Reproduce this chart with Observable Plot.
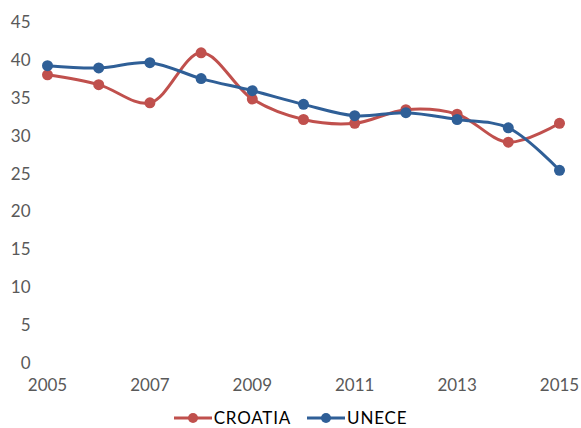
<!DOCTYPE html>
<html>
<head>
<meta charset="utf-8">
<script src="https://cdn.jsdelivr.net/npm/d3@7"></script>
<script src="https://cdn.jsdelivr.net/npm/@observablehq/plot@0.6"></script>
<style>
  body { margin: 0; background: #fff; font-family: Lato, "Open Sans", sans-serif; overflow: hidden; }
  #chart svg { display: block; }
  #legend { display: flex; justify-content: center; gap: 16px; font-size: 17px; line-height: 20px; letter-spacing: 0.8px; color: #000; height: 20px; align-items: center; margin-top: 11px; }
  #legend span.item { display: inline-flex; align-items: center; gap: 2px; }
</style>
</head>
<body>
<div id="chart"></div>
<div id="legend"></div>
<script>
const years = [2005, 2006, 2007, 2008, 2009, 2010, 2011, 2012, 2013, 2014, 2015];
const croatia = [38.1, 36.8, 34.4, 41.0, 34.9, 32.2, 31.7, 33.5, 32.9, 29.2, 31.7];
const unece = [39.3, 39.0, 39.7, 37.6, 36.0, 34.2, 32.7, 33.1, 32.2, 31.1, 25.5];
const seriesNames = ["CROATIA", "UNECE"];
const seriesColors = ["#c0504d", "#2f5f97"];
const xTicks = [2005, 2007, 2009, 2011, 2013, 2015];
const yTicks = [0, 5, 10, 15, 20, 25, 30, 35, 40, 45];

const data = [];
[croatia, unece].forEach((vals, si) => {
  vals.forEach((v, i) => data.push({year: years[i], value: v, series: seriesNames[si]}));
});

const chart = Plot.plot({
  width: 581,
  height: 397,
  marginLeft: 47,
  marginRight: 22,
  marginTop: 22,
  marginBottom: 34,
  style: {fontFamily: "Lato, 'Open Sans', sans-serif", fontSize: "17px", color: "#595959", background: "#fff"},
  x: {domain: [2005, 2015], ticks: xTicks, tickFormat: d => String(d), tickSize: 0, tickPadding: 15, label: null},
  y: {domain: [0, 45], ticks: yTicks, tickSize: 0, tickPadding: 17, label: null},
  color: {domain: seriesNames, range: seriesColors},
  marks: [
    Plot.line(data, {x: "year", y: "value", z: "series", stroke: "series", strokeWidth: 3, curve: "catmull-rom"}),
    Plot.dot(data, {x: "year", y: "value", fill: "series", r: 5.5})
  ]
});
document.getElementById("chart").appendChild(chart);

const legend = document.getElementById("legend");
seriesNames.forEach((name, i) => {
  const item = document.createElement("span");
  item.className = "item";
  item.innerHTML = `<svg width="38" height="12" style="display:block"><line x1="0" y1="6" x2="38" y2="6" stroke="${seriesColors[i]}" stroke-width="3"/><circle cx="19" cy="6" r="5" fill="${seriesColors[i]}"/></svg><span>${name}</span>`;
  legend.appendChild(item);
});
</script>
</body>
</html>
